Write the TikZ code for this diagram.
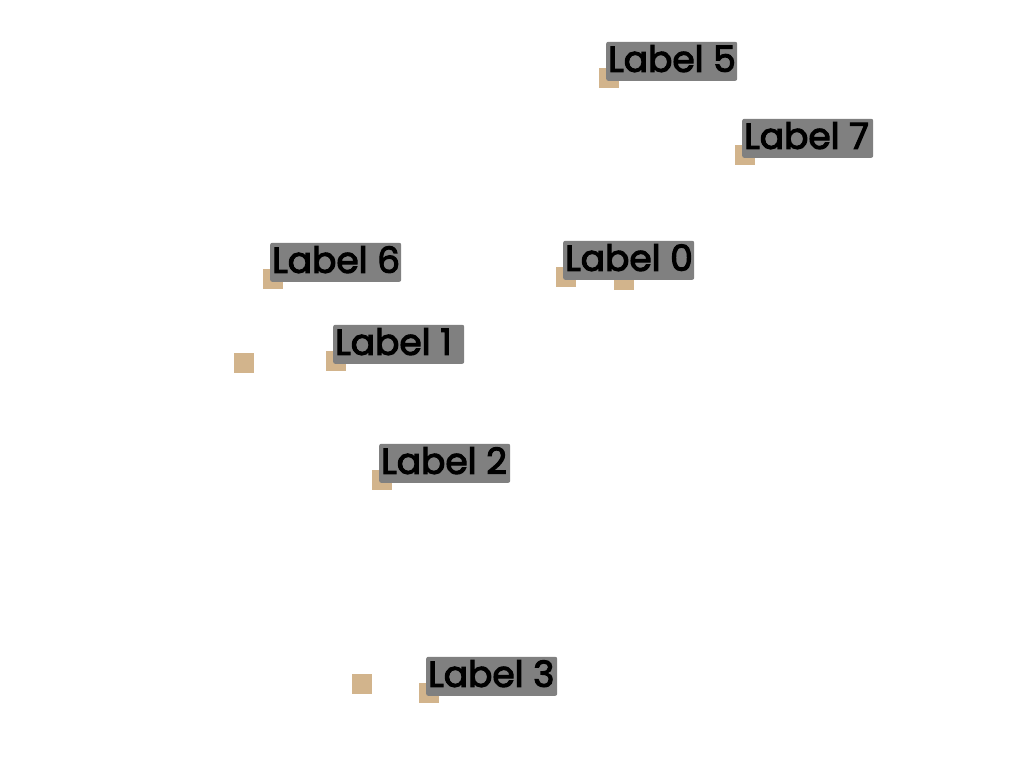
\documentclass[tikz,border=0pt]{standalone}
\usepackage{fontspec}
\newfontfamily\lblfont{Poppins}[FakeBold=3]
\definecolor{ptcol}{HTML}{D2B48C}
\definecolor{boxcol}{HTML}{808080}
\newcommand{\lbltext}[1]{\makebox[127pt][l]{#1}}
\begin{document}
\begin{tikzpicture}[x=1pt,y=-1pt,
  pt/.style={fill=ptcol, minimum size=20pt, inner sep=0pt, draw=none, rectangle},
  lbl/.style={fill=boxcol, rounded corners=2pt, anchor=south west, text=black,
    font=\lblfont\fontsize{36}{36}\selectfont,
    inner xsep=2pt, inner ysep=0pt,
    text height=30pt, text depth=9pt}]
\useasboundingbox (0,0) rectangle (1024,768);
% data points
\node[pt] (p0) at (566,277) {};
\node[pt] (p1) at (336,361) {};
\node[pt] (p2) at (382,480) {};
\node[pt] (p3) at (429,693) {};
\node[pt] (p5) at (609,78) {};
\node[pt] (p6) at (273,279) {};
\node[pt] (p7) at (745,155) {};
\node[pt] (q1) at (244,363) {};
\node[pt] (q2) at (362,684) {};
\node[pt] (q3) at (624,280) {};
% labels
\foreach \i in {0,1,2,3,5,6,7}{
  \node[lbl] (l\i) at ([shift={(-3,3)}]p\i.center) {\lbltext{Label \i}};
}
\end{tikzpicture}
\end{document}
